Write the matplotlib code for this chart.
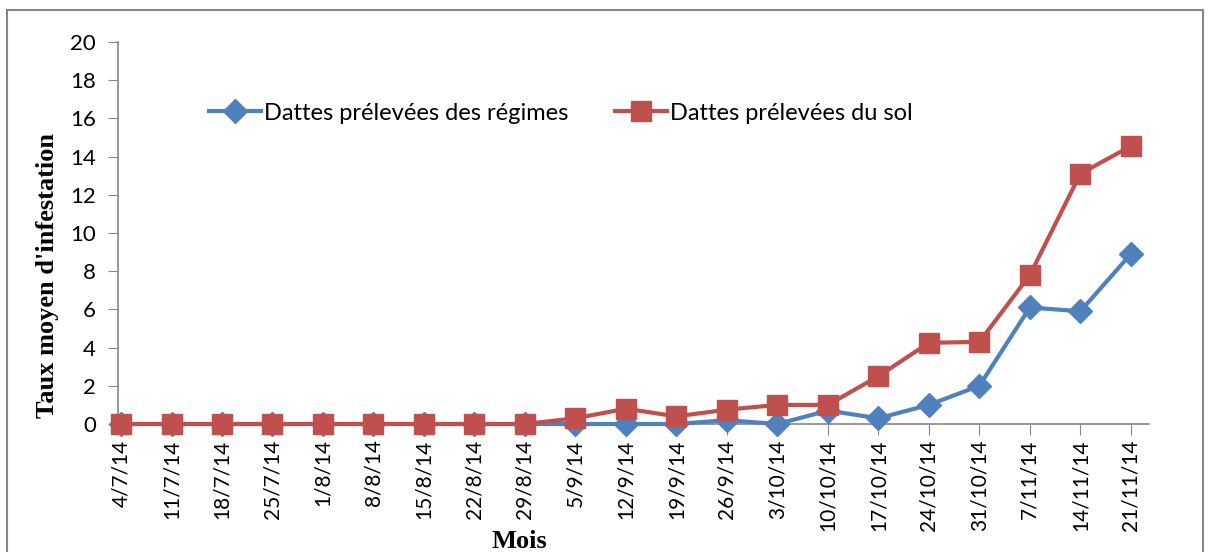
import matplotlib.pyplot as plt
from matplotlib.patches import Rectangle

dates = ['4/7/14', '11/7/14', '18/7/14', '25/7/14', '1/8/14', '8/8/14',
         '15/8/14', '22/8/14', '29/8/14', '5/9/14', '12/9/14', '19/9/14',
         '26/9/14', '3/10/14', '10/10/14', '17/10/14', '24/10/14',
         '31/10/14', '7/11/14', '14/11/14', '21/11/14']
regimes = [0, 0, 0, 0, 0, 0, 0, 0, 0,
           0, 0, 0, 0.2, 0, 0.7, 0.3, 1.0, 2.0, 6.1, 5.9, 8.9]
sol = [0, 0, 0, 0, 0, 0, 0, 0, 0,
       0.3, 0.8, 0.4, 0.75, 1.0, 1.0, 2.5, 4.25, 4.3, 7.8, 13.1, 14.55]

BLUE = '#4F81BD'
RED = '#C0504D'
GREY = '#868686'

plt.rcParams['font.family'] = ['Lato', 'DejaVu Sans']

fig = plt.figure(figsize=(12.1, 5.52), dpi=100)
ax = fig.add_axes([118 / 1210, 1 - 424 / 552, (1149 - 118) / 1210, (424 - 42) / 552])

x = list(range(len(dates)))
ax.plot(x, regimes, color=BLUE, lw=3, marker='D', ms=12,
        label='Dattes prélevées des régimes', clip_on=False, zorder=3)
ax.plot(x, sol, color=RED, lw=3, marker='s', ms=14,
        label='Dattes prélevées du sol', clip_on=False, zorder=4)

ax.set_xlim(-0.06, 20.36)
ax.set_ylim(0, 20)
ax.set_yticks(range(0, 21, 2))
ax.set_xticks(x)
ax.set_xticklabels(dates, rotation=90, fontsize=15)
ax.tick_params(axis='y', labelsize=16, length=7, color=GREY, pad=9)
ax.tick_params(axis='x', length=8, color=GREY, pad=3)

for side in ['top', 'right']:
    ax.spines[side].set_visible(False)
for side in ['left', 'bottom']:
    ax.spines[side].set_color(GREY)
    ax.spines[side].set_linewidth(1.2)

fig.legend(loc='center left', bbox_to_anchor=(209 / 1210, 1 - 113 / 552),
           ncol=2, frameon=False, fontsize=17, handlelength=2.2,
           handletextpad=0.12, columnspacing=2.0, borderaxespad=0,
           borderpad=0)

fig.text(48 / 1210, 1 - 275 / 552, "Taux moyen d'infestation", rotation=90,
         ha='center', va='center', fontsize=19, fontweight='bold',
         family='Liberation Serif')
fig.text(519 / 1210, 1 - 541 / 552, 'Mois', ha='center', va='center',
         fontsize=19, fontweight='bold', family='Liberation Serif')

# outer frame of the chart area (bottom edge falls outside the image)
fig.patches.append(Rectangle((7 / 1210, -0.05), (1203 - 7) / 1210, 1.05 - 10 / 552,
                             transform=fig.transFigure, fill=False,
                             edgecolor=GREY, lw=1.5))

fig.savefig('out.png', dpi=100)
